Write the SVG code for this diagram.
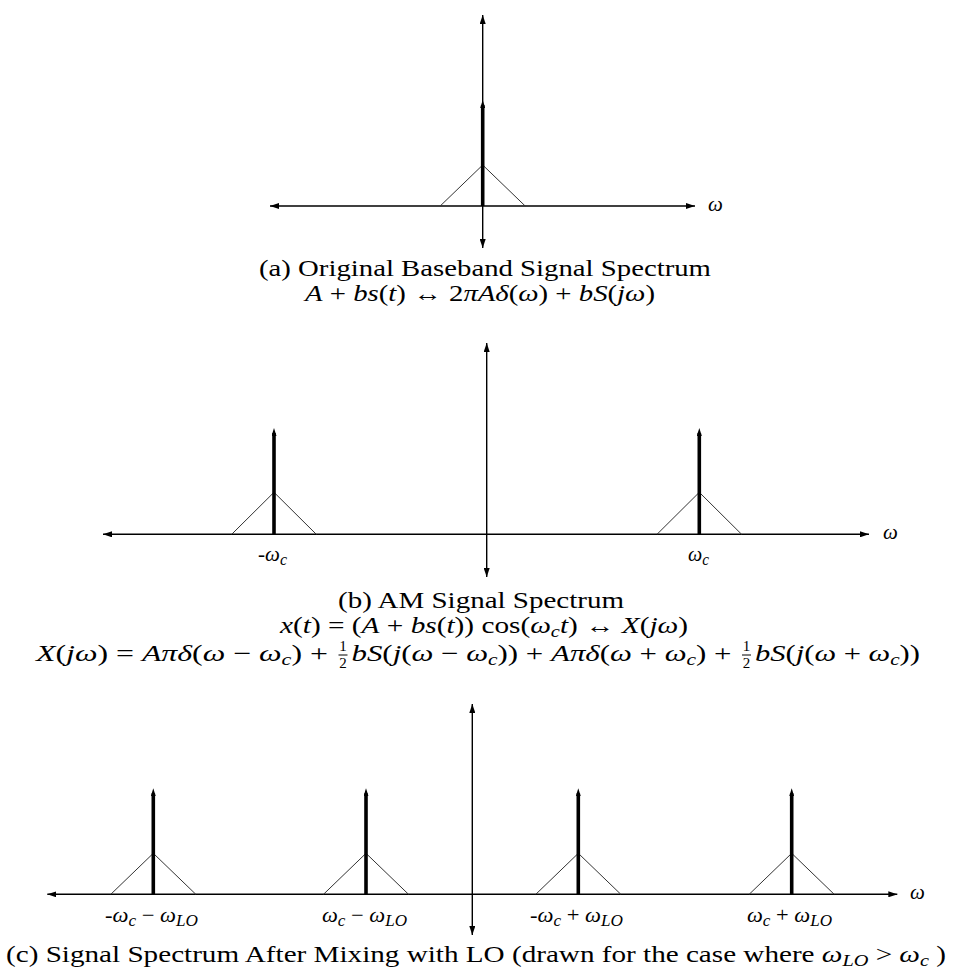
<svg xmlns="http://www.w3.org/2000/svg" width="956" height="975" viewBox="0 0 956 975">
<defs>
<style>
.ax{stroke:#000;stroke-width:1.4;fill:none;marker-start:url(#ah);marker-end:url(#ah)}
.imp{stroke:#000;stroke-width:3.6;fill:none;marker-end:url(#ih)}
.tri{stroke:#333;stroke-width:1;fill:none}
.t{font-family:"Liberation Serif","DejaVu Serif",serif;font-size:23px;fill:#000}
.l{font-family:"Liberation Serif","DejaVu Serif",serif;font-size:21px;fill:#000}
.i{font-style:italic}
.s{font-size:16px}
.fr{font-family:"Liberation Serif","DejaVu Serif",serif;font-size:15px;fill:#000;text-anchor:middle}
.bar{stroke:#000;stroke-width:1}
</style>
<marker id="ah" viewBox="0 0 9 6" refX="9" refY="3" markerWidth="9" markerHeight="6" markerUnits="userSpaceOnUse" orient="auto-start-reverse"><path d="M0,0 L9,3 L0,6 z" fill="#000"/></marker>
<marker id="ih" viewBox="0 0 8 5" refX="3" refY="2.5" markerWidth="8" markerHeight="5" markerUnits="userSpaceOnUse" orient="auto"><path d="M0,0 L8,2.5 L0,5 z" fill="#000"/></marker>
</defs>

<g id="panel-a">
<line class="ax" x1="270" y1="206" x2="695" y2="206"/>
<line class="ax" x1="482.7" y1="248" x2="482.7" y2="15"/>
<polyline class="tri" points="440.2,206 482.7,165 525.2,206"/>
<line class="imp" x1="482.7" y1="206" x2="482.7" y2="105"/>
<text class="l i" x="708" y="211">ω</text>
<text class="t" x="259" y="276" textLength="452" lengthAdjust="spacingAndGlyphs">(a) Original Baseband Signal Spectrum</text>
<text class="t" x="305" y="301" textLength="350" lengthAdjust="spacingAndGlyphs"><tspan class="i">A</tspan> + <tspan class="i">bs</tspan>(<tspan class="i">t</tspan>) ↔ 2<tspan class="i">πAδ</tspan>(<tspan class="i">ω</tspan>) + <tspan class="i">bS</tspan>(<tspan class="i">jω</tspan>)</text>
</g>

<g id="panel-b">
<line class="ax" x1="103" y1="534.3" x2="869" y2="534.3"/>
<line class="ax" x1="486.7" y1="577" x2="486.7" y2="343"/>
<g id="b-neg">
<polyline class="tri" points="231.7,534.3 274,492.3 316.3,534.3"/>
<line class="imp" x1="274" y1="534.3" x2="274" y2="433"/>
<text class="l" x="258" y="561" textLength="29" lengthAdjust="spacingAndGlyphs">-<tspan class="i">ω</tspan><tspan class="i s" dy="4">c</tspan></text>
</g>
<g id="b-pos">
<polyline class="tri" points="657,534.3 699.3,492.3 741.6,534.3"/>
<line class="imp" x1="699.3" y1="534.3" x2="699.3" y2="433"/>
<text class="l" x="688" y="561" textLength="21" lengthAdjust="spacingAndGlyphs"><tspan class="i">ω</tspan><tspan class="i s" dy="4">c</tspan></text>
</g>
<text class="l i" x="883" y="539">ω</text>
<text class="t" x="338" y="608" textLength="286" lengthAdjust="spacingAndGlyphs">(b) AM Signal Spectrum</text>
<text class="t" x="280" y="633" textLength="408" lengthAdjust="spacingAndGlyphs"><tspan class="i">x</tspan>(<tspan class="i">t</tspan>) = (<tspan class="i">A</tspan> + <tspan class="i">bs</tspan>(<tspan class="i">t</tspan>)) cos(<tspan class="i">ω</tspan><tspan class="i s" dy="4">c</tspan><tspan class="i" dy="-4">t</tspan>) ↔ <tspan class="i">X</tspan>(<tspan class="i">jω</tspan>)</text>
<text class="t" x="36" y="661" textLength="292" lengthAdjust="spacingAndGlyphs"><tspan class="i">X</tspan>(<tspan class="i">jω</tspan>) = <tspan class="i">Aπδ</tspan>(<tspan class="i">ω</tspan> − <tspan class="i">ω</tspan><tspan class="i s" dy="4">c</tspan><tspan dy="-4">) +</tspan></text>
<text class="fr" x="343" y="651">1</text>
<line class="bar" x1="338.5" y1="655" x2="347.5" y2="655"/>
<text class="fr" x="343" y="668">2</text>
<text class="t" x="351.5" y="661" textLength="380" lengthAdjust="spacingAndGlyphs"><tspan class="i">bS</tspan>(<tspan class="i">j</tspan>(<tspan class="i">ω</tspan> − <tspan class="i">ω</tspan><tspan class="i s" dy="4">c</tspan><tspan dy="-4">)) + </tspan><tspan class="i">Aπδ</tspan>(<tspan class="i">ω</tspan> + <tspan class="i">ω</tspan><tspan class="i s" dy="4">c</tspan><tspan dy="-4">) +</tspan></text>
<text class="fr" x="746.5" y="651">1</text>
<line class="bar" x1="742" y1="655" x2="751" y2="655"/>
<text class="fr" x="746.5" y="668">2</text>
<text class="t" x="755" y="661" textLength="165" lengthAdjust="spacingAndGlyphs"><tspan class="i">bS</tspan>(<tspan class="i">j</tspan>(<tspan class="i">ω</tspan> + <tspan class="i">ω</tspan><tspan class="i s" dy="4">c</tspan><tspan dy="-4">))</tspan></text>
</g>

<g id="panel-c">
<line class="ax" x1="47.3" y1="894.3" x2="897.3" y2="894.3"/>
<line class="ax" x1="472.3" y1="935" x2="472.3" y2="704"/>
<g id="c-1">
<polyline class="tri" points="110.8,894.3 153.3,853.3 195.8,894.3"/>
<line class="imp" x1="153.3" y1="894.3" x2="153.3" y2="793.3"/>
<text class="l" x="105" y="922" textLength="93" lengthAdjust="spacingAndGlyphs">-<tspan class="i">ω</tspan><tspan class="i s" dy="4">c</tspan><tspan dy="-4"> − </tspan><tspan class="i">ω</tspan><tspan class="i s" dy="4">LO</tspan></text>
</g>
<g id="c-2">
<polyline class="tri" points="323.5,894.3 366,853.3 408.5,894.3"/>
<line class="imp" x1="366" y1="894.3" x2="366" y2="793.3"/>
<text class="l" x="322" y="922" textLength="85" lengthAdjust="spacingAndGlyphs"><tspan class="i">ω</tspan><tspan class="i s" dy="4">c</tspan><tspan dy="-4"> − </tspan><tspan class="i">ω</tspan><tspan class="i s" dy="4">LO</tspan></text>
</g>
<g id="c-3">
<polyline class="tri" points="535.8,894.3 578.3,853.3 620.8,894.3"/>
<line class="imp" x1="578.3" y1="894.3" x2="578.3" y2="793.3"/>
<text class="l" x="530" y="922" textLength="93" lengthAdjust="spacingAndGlyphs">-<tspan class="i">ω</tspan><tspan class="i s" dy="4">c</tspan><tspan dy="-4"> + </tspan><tspan class="i">ω</tspan><tspan class="i s" dy="4">LO</tspan></text>
</g>
<g id="c-4">
<polyline class="tri" points="749.2,894.3 791.7,853.3 834.2,894.3"/>
<line class="imp" x1="791.7" y1="894.3" x2="791.7" y2="793.3"/>
<text class="l" x="747" y="922" textLength="85" lengthAdjust="spacingAndGlyphs"><tspan class="i">ω</tspan><tspan class="i s" dy="4">c</tspan><tspan dy="-4"> + </tspan><tspan class="i">ω</tspan><tspan class="i s" dy="4">LO</tspan></text>
</g>
<text class="l i" x="910" y="899">ω</text>
<text class="t" x="6" y="962" textLength="940" lengthAdjust="spacingAndGlyphs">(c) Signal Spectrum After Mixing with LO (drawn for the case where <tspan class="i">ω</tspan><tspan class="i s" dy="4">LO</tspan><tspan dy="-4"> &gt; </tspan><tspan class="i">ω</tspan><tspan class="i s" dy="4">c</tspan><tspan dy="-4"> )</tspan></text>
</g>
</svg>
